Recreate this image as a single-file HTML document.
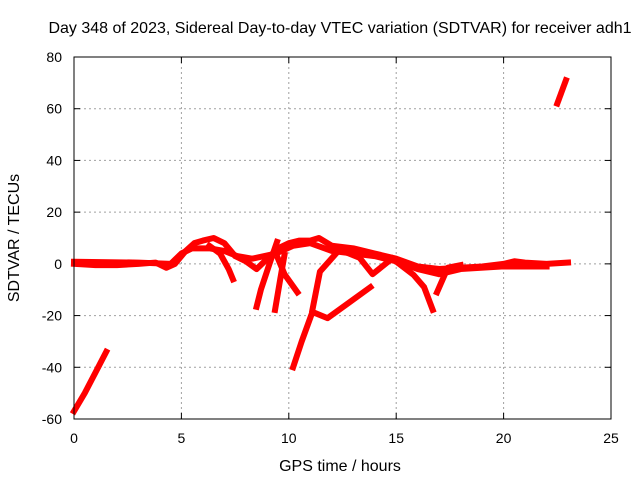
<!DOCTYPE html>
<html><head><meta charset="utf-8"><style>
body{margin:0;background:#fff;font-family:"Liberation Sans",sans-serif}
svg text{font-family:"Liberation Sans",sans-serif;font-size:14px;fill:#000}
svg text.big{font-size:16px}
</style></head><body>
<svg id="c" width="640" height="480">
<rect width="640" height="480" fill="#fff"/>
<text class="big" x="340" y="33" text-anchor="middle">Day 348 of 2023, Sidereal Day-to-day VTEC variation (SDTVAR) for receiver adh1</text>
<text class="big" x="340" y="471" text-anchor="middle">GPS time / hours</text>
<text class="big" transform="translate(19,238) rotate(-90)" text-anchor="middle">SDTVAR / TECUs</text>
<g id="grid"></g>
<g id="marks"></g>
<rect x="74" y="57" width="537" height="362" fill="none" stroke="#000"/>
</svg>
<script>
const xTicks=[0,5,10,15,20,25];
const yTicks=[-60,-40,-20,0,20,40,60,80];
const track1=[[0,0],[1,-0.5],[2,-0.5],[3,0],[3.8,0.5],[4.3,-1.5],[4.7,0],[5.2,5],[5.6,8],[6,9],[6.5,10],[7,8],[7.5,3],[8,1],[8.5,-2],[9,2],[9.5,6],[10,8],[10.5,9],[11,9],[11.4,10],[12,7],[13,6],[14,4],[15,2],[16,-1],[17,-2],[18,-1.5],[19,-1],[20,0],[20.5,1],[21,0.5],[22,0],[23,0.5]];
const track2=[[0,0.8],[3,0.5],[4.5,0],[5,4],[5.5,6],[6.3,6],[7,5],[7.6,3],[8.3,2],[9.4,4],[10.2,7],[11,8],[12,5],[13,4],[14,3],[15,1],[16,-2],[17,-4],[18,-2],[20,-1],[22,-1]];
const track3=[[6.3,7],[6.8,4],[7.2,-2],[7.4,-6]];
const track4=[[9.45,8.5],[9.1,0],[8.7,-10],[8.5,-16.6]];
const track5=[[9.8,3.5],[9.6,-6],[9.36,-17.8]];
const track6=[[9.5,2],[9.8,-4],[10.4,-11]];
const track7=[[10.2,-40],[10.6,-30],[11.1,-18.6],[11.8,-21],[12.8,-15],[13.8,-9]];
const track8=[[11.1,-17.8],[11.45,-3],[12.2,4]];
const track9=[[14.9,1.5],[15.8,-4.2],[16.3,-9],[16.7,-17.8]];
const track10=[[16.9,-11],[17.4,-1.5],[18,-0.5]];
const track11=[[12.8,4],[13.3,2.3],[13.9,-4],[14.8,2]];
const track12=[[0,-57],[0.5,-50],[1,-42],[1.5,-34]];
const track13=[[22.5,62],[22.9,71]];
const tracks=[track1,track2,track3,track4,track5,track6,track7,track8,track9,track10,track11,track12,track13];
const X=h=>74+h*537/25, Y=v=>57+(80-v)*362/140;
const NS='http://www.w3.org/2000/svg';
const svg=document.getElementById('c'),grid=document.getElementById('grid'),marks=document.getElementById('marks');
function mk(t,a,p){const e=document.createElementNS(NS,t);for(const k in a)e.setAttribute(k,a[k]);p.appendChild(e);return e;}
xTicks.forEach(t=>{
 if(t>0&&t<25){const l=mk('line',{x1:X(t),x2:X(t),y1:57,y2:419,stroke:'#a0a0a0','stroke-dasharray':'2,3'},grid);
 
 }
 mk('line',{x1:X(t),x2:X(t),y1:419,y2:413,stroke:'#000'},grid);
 mk('line',{x1:X(t),x2:X(t),y1:57,y2:63,stroke:'#000'},grid);
 const tx=mk('text',{x:X(t),y:443,'text-anchor':'middle'},svg);tx.textContent=t;
 
 
});
yTicks.forEach(t=>{
 if(t>-60&&t<80){const l=mk('line',{x1:74,x2:611,y1:Y(t),y2:Y(t),stroke:'#a0a0a0','stroke-dasharray':'2,3'},grid);
 
 }
 mk('line',{x1:74,x2:80,y1:Y(t),y2:Y(t),stroke:'#000'},grid);
 mk('line',{x1:605,x2:611,y1:Y(t),y2:Y(t),stroke:'#000'},grid);
 const tx=mk('text',{x:62,y:Y(t)+5,'text-anchor':'end'},svg);tx.textContent=t;
 
 
});
tracks.forEach(tr=>{
 const p=mk('polyline',{points:tr.map(d=>X(d[0])+','+Y(d[1])).join(' '),fill:'none',stroke:'#f00','stroke-width':6,'stroke-linejoin':'round','stroke-linecap':'square'},marks);
 
 
});
</script>
</body></html>
